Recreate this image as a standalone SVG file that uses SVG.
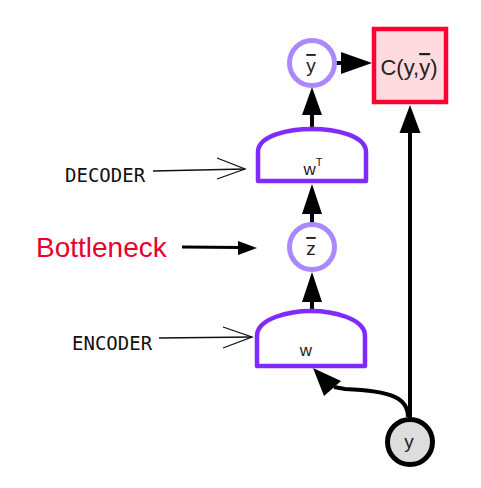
<svg xmlns="http://www.w3.org/2000/svg" width="481" height="488" viewBox="0 0 481 488">
<style>
.lbl{font-family:"Liberation Sans",Arial,sans-serif;fill:#222;text-anchor:middle}
.mono{font-family:"DejaVu Sans Mono",monospace;font-size:19px;fill:#111}
.vae{fill:#fff;stroke:#7f2aff;stroke-width:4.5;stroke-linejoin:round}
.lat{fill:#fff;stroke:#aa88ff;stroke-width:5}
.ln{stroke:#000;stroke-width:4;fill:none}
.hd{fill:#000}
.thin{stroke:#111;stroke-width:1.3;fill:none}
.ol{text-decoration:overline}
</style>
<rect width="481" height="488" fill="#fff"/>
<g id="connectors">
  <line class="ln" x1="312" y1="129" x2="312" y2="112"/>
  <polygon class="hd" points="312,87 322,115 302,115"/>
  <line class="ln" x1="312" y1="223" x2="312" y2="211"/>
  <polygon class="hd" points="312,184 322,214 302,214"/>
  <line class="ln" x1="312" y1="311" x2="312" y2="299"/>
  <polygon class="hd" points="312,272 322,302 302,302"/>
  <line class="ln" x1="336" y1="63" x2="344" y2="63"/>
  <polygon class="hd" points="372,63 341,52 341,74"/>
  <line class="ln" x1="410" y1="418" x2="410" y2="130"/>
  <polygon class="hd" points="410,105 420.5,133 399.5,133"/>
  <path class="ln" d="M408,417 C408,398 392,391 345,389 L334,387"/>
  <polygon class="hd" points="313,368 324,396 341,381"/>
  <line stroke="#000" stroke-width="3" x1="182" y1="247" x2="241" y2="247.5"/>
  <polygon class="hd" points="257,248 238,241 238,255"/>
  <line class="thin" x1="153" y1="171" x2="245" y2="169"/>
  <polyline class="thin" points="217,158 245,169 217,179"/>
  <line class="thin" x1="159" y1="338" x2="252" y2="337"/>
  <polyline class="thin" points="223,327 252,337 223,348"/>
</g>
<g id="ybar">
  <circle class="lat" cx="312" cy="63" r="22.5"/>
  <text class="lbl" x="311" y="72" font-size="19"><tspan class="ol">y</tspan></text>
</g>
<g id="cost">
  <rect x="374" y="29" width="72" height="73" fill="#ffdbe0" stroke="#ff0033" stroke-width="4.5"/>
  <text class="lbl" x="409" y="75" font-size="22">C(y,<tspan class="ol">y</tspan>)</text>
</g>
<g id="decoder">
  <path class="vae" d="M258,181 V152 C258,135 290,129 312,129 C334,129 366,135 366,152 V181 Z"/>
  <text class="lbl" x="313" y="175" font-size="17">w<tspan font-size="11" dy="-9">T</tspan></text>
</g>
<g id="zbar">
  <circle class="lat" cx="312" cy="247" r="22.5"/>
  <text class="lbl" x="311" y="255" font-size="19"><tspan class="ol">z</tspan></text>
</g>
<g id="encoder">
  <path class="vae" d="M257,366 V336 C257,318 290,311 311,311 C332,311 365,318 365,336 V366 Z"/>
  <text class="lbl" x="306" y="356" font-size="17">w</text>
</g>
<g id="y">
  <circle cx="410" cy="442" r="22.5" fill="#dddddd" stroke="#000" stroke-width="5"/>
  <text class="lbl" x="409" y="448" font-size="19">y</text>
</g>
<g id="labels">
  <text class="mono" x="65" y="182">DECODER</text>
  <text class="mono" x="72" y="350">ENCODER</text>
  <text x="36" y="257" font-family="Liberation Sans,Arial,sans-serif" font-size="28" fill="#e8002a">Bottleneck</text>
</g>
</svg>
